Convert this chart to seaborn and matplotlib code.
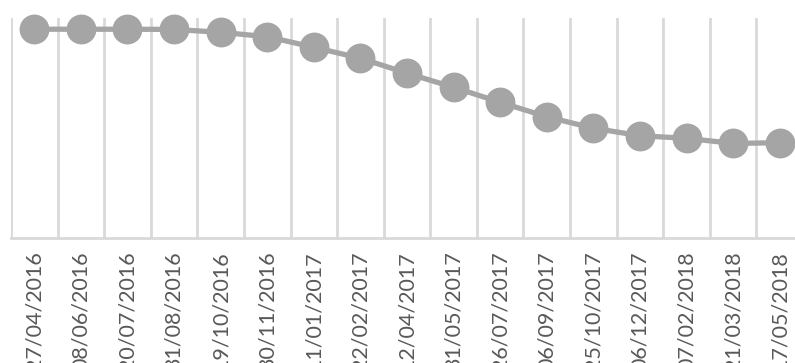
import pandas as pd
import matplotlib.pyplot as plt
import seaborn as sns

# dates on the category axis
dates = ['27/04/2016', '08/06/2016', '20/07/2016', '31/08/2016', '19/10/2016',
         '30/11/2016', '11/01/2017', '22/02/2017', '12/04/2017', '31/05/2017',
         '26/07/2017', '06/09/2017', '25/10/2017', '06/12/2017', '07/02/2018',
         '21/03/2018', '17/05/2018']
# values (axis hidden, 0..100 scale)
values = [94.9, 94.9, 94.9, 94.8, 93.5, 91.5, 86.7, 81.7, 74.9, 68.5,
          61.7, 55.1, 49.9, 46.5, 45.3, 43.0, 43.3]

df = pd.DataFrame({'date': dates, 'value': values})

sns.set_style('white')
plt.rcParams['font.family'] = ['Lato', 'DejaVu Sans']

fig = plt.figure(figsize=(7.95, 3.63), dpi=100)
W, H = 795, 363
ax = fig.add_axes([11 / W, 1 - 238 / H, (803 - 11) / W, (238 - 18) / H])

sns.lineplot(data=df, x='date', y='value', ax=ax, sort=False,
             color='#A5A5A5', linewidth=3.8, marker='o', markersize=21.5,
             markeredgewidth=0, clip_on=False, zorder=3)

ax.set_xlim(-0.5, len(dates) - 0.5)
ax.set_ylim(0, 100)

# vertical gridlines between categories
ax.set_xticks([i - 0.5 for i in range(len(dates) + 1)], minor=True)
ax.grid(which='minor', axis='x', color='#D9D9D9', linewidth=2.0)
ax.grid(which='major', visible=False)

ax.set_xticks(range(len(dates)))
ax.set_xticklabels(dates, rotation=90, color='#595959', fontsize=15.5)
ax.tick_params(axis='x', which='both', length=0, pad=9.5)
ax.set_yticks([])
ax.set_xlabel('')
ax.set_ylabel('')

for side in ['top', 'right', 'left']:
    ax.spines[side].set_visible(False)
ax.spines['bottom'].set_color('#D9D9D9')
ax.spines['bottom'].set_linewidth(2.0)

fig.savefig('out.png', dpi=100)
